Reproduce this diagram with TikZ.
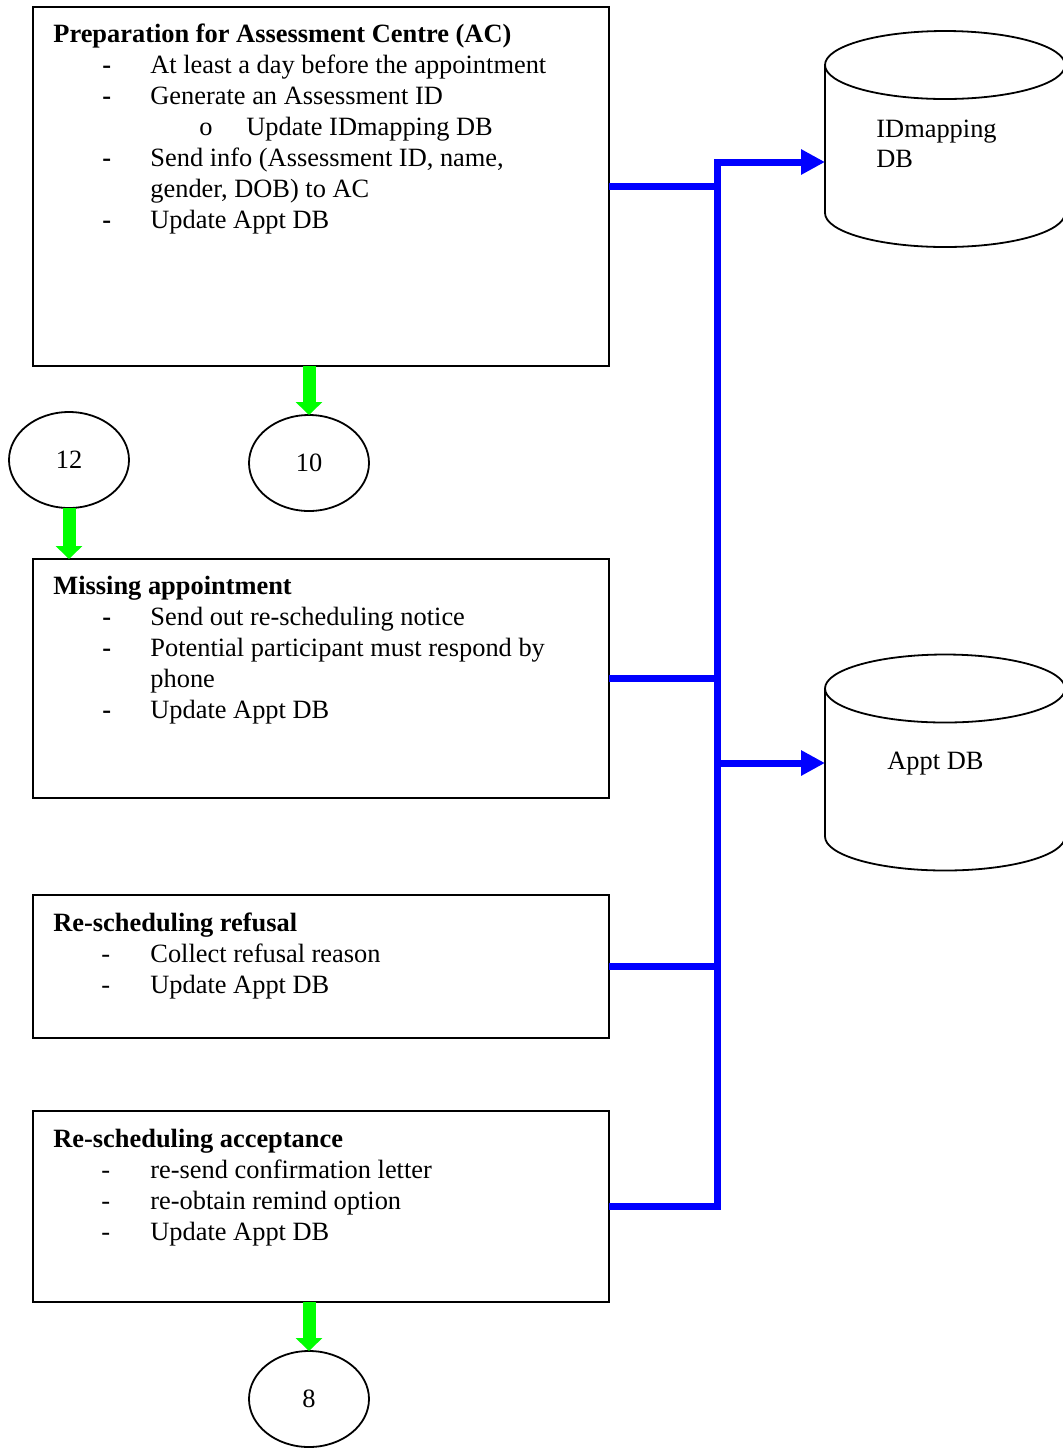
\documentclass[tikz,border=0pt]{standalone}
\usepackage{xcolor}
\usepackage{fontspec}
\setmainfont{Liberation Serif}
\usepackage{tikz}
\usetikzlibrary{arrows.meta,shapes.geometric}
\definecolor{busblue}{RGB}{0,0,255}
\definecolor{flowgreen}{RGB}{0,255,0}
\newcommand{\dashb}{\hspace*{24.5pt}\makebox[24pt][l]{\textbf{-}}}
\newcommand{\dashn}{\hspace*{24pt}\makebox[24.5pt][l]{-}}
\newcommand{\subo}{\hspace*{73pt}\makebox[23.5pt][l]{o}}
\newcommand{\cont}{\hspace*{48.5pt}}
% cylinder outline drawn round an invisible box node
\newcommand{\dbshape}[1]{%
  \draw[dbline] (#1.north west) ++(0,34) -- ++(0,148)
    arc[start angle=180,end angle=0,x radius=120,y radius=34] -- ++(0,-148);
  \draw[dbline] (#1.north) ++(0,34) ellipse [x radius=120,y radius=34];
}

\begin{document}
\begin{tikzpicture}[x=0.5pt,y=-0.5pt,
    box/.style={draw,line width=1pt,rectangle,anchor=north west,
      minimum width=288pt,inner sep=0pt,outer sep=0pt},
    boxtext/.style={anchor=north west,align=left,inner sep=0pt,
      font=\fontsize{13.2}{15.5}\selectfont},
    conn/.style={draw,ellipse,line width=0.9pt,minimum width=60pt,
      minimum height=48pt,inner sep=0pt,outer sep=0pt,
      font=\fontsize{13.2}{15}\selectfont},
    dbbox/.style={rectangle,minimum width=120pt,minimum height=108pt,
      inner sep=0pt,outer sep=0pt},
    dbline/.style={line width=0.9pt},
    dbtext/.style={anchor=west,align=left,inner sep=0pt,
      font=\fontsize{13.2}{15}\selectfont},
    bus/.style={busblue,line width=3.5pt},
    busarrow/.style={bus,-{Triangle[length=12pt,width=12pt]}},
    flow/.style={flowgreen,line width=6.5pt,-{Triangle[length=6.5pt,width=13pt]}}]
  \useasboundingbox (0,0) rectangle (1062,1448);

  % process boxes
  \node[box,minimum height=179.5pt] (prep) at (33,7) {};
  \node[boxtext] (preptext) at (53,20.3) {\strut\textbf{Preparation for Assessment Centre (AC)}\\
    \dashb At least a day before the appointment\\
    \dashb Generate an Assessment ID\\
    \subo Update IDmapping DB\\
    \dashb Send info (Assessment ID, name,\\
    \cont gender, DOB) to AC\\
    \dashb Update Appt DB};

  \node[box,minimum height=119.5pt] (missing) at (33,559) {};
  \node[boxtext] (missingtext) at (53,572.3) {\strut\textbf{Missing appointment}\\
    \dashb Send out re-scheduling notice\\
    \dashb Potential participant must respond by\\
    \cont phone\\
    \dashb Update Appt DB};

  \node[box,minimum height=71.5pt] (refusal) at (33,895) {};
  \node[boxtext] (refusaltext) at (53,909.3) {\strut\textbf{Re-scheduling refusal}\\
    \dashn Collect refusal reason\\
    \dashn Update Appt DB};

  \node[box,minimum height=95.5pt] (accept) at (33,1111) {};
  \node[boxtext] (accepttext) at (53,1125.3) {\strut\textbf{Re-scheduling acceptance}\\
    \dashn re-send confirmation letter\\
    \dashn re-obtain remind option\\
    \dashn Update Appt DB};

  % off-page connectors
  \node[conn] (conn12) at (69,460) {12};
  \node[conn] (conn10) at (309,463) {10};
  \node[conn] (conn8) at (309,1399) {8};

  % databases
  \node[dbbox] (idmap) at (945,139) {};
  \dbshape{idmap}
  \node[dbtext] (idmaptext) at (876,144) {IDmapping\\DB};
  \node[dbbox] (apptdb) at (945,762.5) {};
  \dbshape{apptdb}
  \node[dbtext] (appttext) at (887,764) {Appt DB};

  % green flow arrows
  \draw[flow] (conn10.north |- prep.south) -- (conn10.north);
  \draw[flow] (conn12.south) -- (conn12.south |- missing.north);
  \draw[flow] (conn8.north |- accept.south) -- (conn8.north);

  % blue bus to the databases
  \coordinate (jtop) at (717,162);
  \coordinate (jappt) at (717,763);
  \draw[busarrow] (accept.east) -| (jtop) -- (idmap.west |- jtop);
  \draw[bus] (prep.east) -- (prep.east -| jtop);
  \draw[bus] (missing.east) -- (missing.east -| jtop);
  \draw[bus] (refusal.east) -- (refusal.east -| jtop);
  \draw[busarrow] (jappt) -- (apptdb.west |- jappt);
\end{tikzpicture}
\end{document}
